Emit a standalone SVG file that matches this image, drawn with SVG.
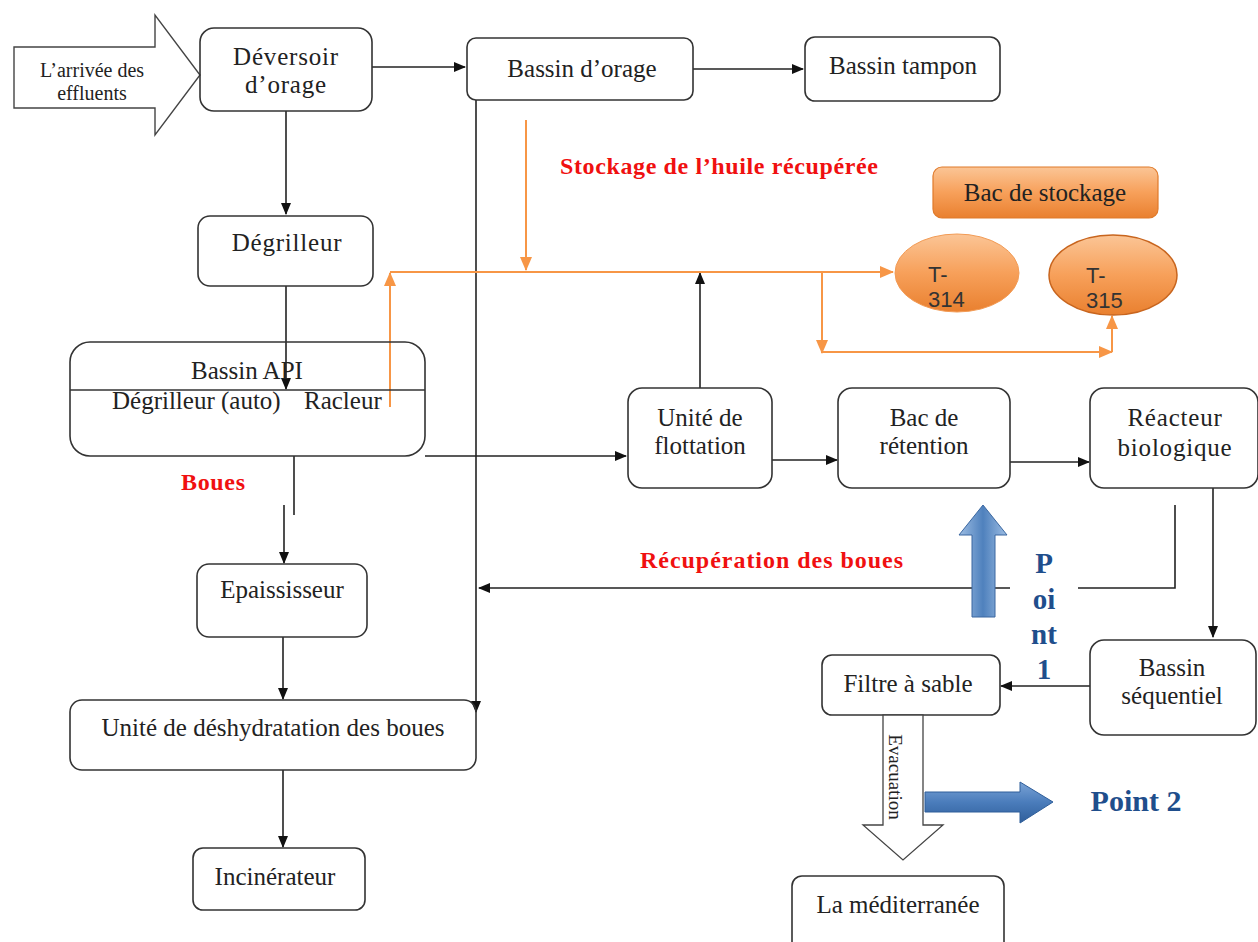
<svg xmlns="http://www.w3.org/2000/svg" width="1258" height="942" viewBox="0 0 1258 942">
<style>
.box{fill:none;stroke:#333;stroke-width:1.6}
.t{font-family:"Liberation Serif","Times New Roman",serif;font-size:25px;fill:#222;text-anchor:middle}
.red{font-family:"Liberation Serif","Times New Roman",serif;font-size:24px;font-weight:bold;fill:#f01010}
.blue{font-family:"Liberation Serif","Times New Roman",serif;font-size:29px;font-weight:bold;fill:#1f4e8c;text-anchor:middle}
.sans{font-family:"Liberation Sans",Arial,sans-serif;font-size:22px;fill:#333}
.ln{fill:none;stroke:#222;stroke-width:1.6}
.or{fill:none;stroke:#f79646;stroke-width:2}
</style>
<defs>
<marker id="ah" markerWidth="12" markerHeight="10" refX="11" refY="5" orient="auto" markerUnits="userSpaceOnUse"><path d="M0,0 L12,5 L0,10 Z" fill="#111"/></marker>
<marker id="oh" markerWidth="14" markerHeight="12" refX="13" refY="6" orient="auto" markerUnits="userSpaceOnUse"><path d="M0,0 L14,6 L0,12 Z" fill="#f79646"/></marker>
<linearGradient id="og" x1="0" y1="0" x2="0" y2="1"><stop offset="0" stop-color="#fbc596"/><stop offset="0.5" stop-color="#f7a05a"/><stop offset="1" stop-color="#e9802f"/></linearGradient>
<linearGradient id="bgv" x1="0" y1="0" x2="1" y2="0"><stop offset="0" stop-color="#9dbde3"/><stop offset="0.5" stop-color="#4f81bd"/><stop offset="1" stop-color="#9dbde3"/></linearGradient>
<linearGradient id="bgh" x1="0" y1="0" x2="0" y2="1"><stop offset="0" stop-color="#7aa3d6"/><stop offset="0.5" stop-color="#4a7cbb"/><stop offset="1" stop-color="#2f5e9a"/></linearGradient>
</defs>
<rect width="1258" height="942" fill="#fff"/>

<g id="connectors">
<path class="ln" d="M372,67 H465" marker-end="url(#ah)"/>
<path class="ln" d="M693,69 H803" marker-end="url(#ah)"/>
<path class="ln" d="M286,111 V214" marker-end="url(#ah)"/>
<path class="ln" d="M286,286 V389" marker-end="url(#ah)"/>
<path class="ln" d="M476,100 V712" marker-end="url(#ah)"/>
<path class="ln" d="M425,456 H626" marker-end="url(#ah)"/>
<path class="ln" d="M700,388 V273" marker-end="url(#ah)"/>
<path class="ln" d="M772,460 H837" marker-end="url(#ah)"/>
<path class="ln" d="M1010,462 H1089" marker-end="url(#ah)"/>
<path class="ln" d="M1213,488 V637" marker-end="url(#ah)"/>
<path class="ln" d="M1175,505 V588 H479" marker-end="url(#ah)"/>
<path class="ln" d="M1090,686 H1001" marker-end="url(#ah)"/>
<path class="ln" d="M294,456 V515"/>
<path class="ln" d="M284,505 V563" marker-end="url(#ah)"/>
<path class="ln" d="M283,637 V699" marker-end="url(#ah)"/>
<path class="ln" d="M283,770 V847" marker-end="url(#ah)"/>
<path class="or" d="M390,407 V273" marker-end="url(#oh)"/>
<path class="or" d="M390,272 H893" marker-end="url(#oh)"/>
<path class="or" d="M526,120 V270" marker-end="url(#oh)"/>
<path class="or" d="M822,272 V353" marker-end="url(#oh)"/>
<path class="or" d="M822,352 H1112" marker-end="url(#oh)"/>
<path class="or" d="M1112,352 V316" marker-end="url(#oh)"/>
</g>

<g id="label-recup">
<rect x="625" y="538" width="315" height="48" fill="#fff" opacity="0.5"/>
<text class="red" x="640" y="568" textLength="263">Récupération des boues</text>
</g>
<g id="label-stockage">
<text class="red" x="560" y="174" textLength="318">Stockage de l’huile récupérée</text>
</g>
<g id="label-boues">
<text class="red" x="181" y="490" textLength="64">Boues</text>
</g>

<g id="arrivee">
<polygon points="14,47 155,47 155,15 200,75 155,135 155,108 14,108" fill="#fff" stroke="#444" stroke-width="1.4"/>
<text class="t" x="92" y="77" style="font-size:20px">L’arrivée des</text>
<text class="t" x="92" y="100" style="font-size:20px">effluents</text>
</g>
<g id="deversoir">
<rect class="box" x="200" y="28" width="172" height="83" rx="14"/>
<text class="t" x="286" y="65" letter-spacing="0.8">Déversoir</text>
<text class="t" x="286" y="93" letter-spacing="0.8">d’orage</text>
</g>
<g id="bassin-orage">
<rect class="box" x="467" y="38" width="226" height="62" rx="9"/>
<text class="t" x="582" y="77">Bassin d’orage</text>
</g>
<g id="bassin-tampon">
<rect class="box" x="805" y="37" width="195" height="64" rx="10"/>
<text class="t" x="903" y="74">Bassin tampon</text>
</g>
<g id="degrilleur">
<rect class="box" x="198" y="216" width="175" height="70" rx="12"/>
<text class="t" x="287" y="251" letter-spacing="0.8">Dégrilleur</text>
</g>
<g id="bassin-api">
<rect class="box" x="70" y="342" width="355" height="114" rx="20"/>
<line x1="70" y1="390" x2="425" y2="390" stroke="#333" stroke-width="1.6"/>
<text class="t" x="247" y="379">Bassin API</text>
<text class="t" x="112" y="409" style="text-anchor:start">Dégrilleur (auto)</text>
<text class="t" x="304" y="409" style="text-anchor:start">Racleur</text>
</g>
<g id="bac-stockage">
<rect x="933" y="167" width="225" height="51" rx="9" fill="url(#og)" stroke="#e07a2a" stroke-width="1.2"/>
<text class="t" x="1045" y="201">Bac de stockage</text>
</g>
<g id="t314">
<ellipse cx="957" cy="273" rx="62" ry="39" fill="url(#og)" stroke="#f29b55" stroke-width="1"/>
<text class="sans" x="928" y="282">T-</text>
<text class="sans" x="928" y="307">314</text>
</g>
<g id="t315">
<ellipse cx="1113" cy="275" rx="64" ry="40" fill="url(#og)" stroke="#c8651e" stroke-width="1.5"/>
<text class="sans" x="1086" y="283">T-</text>
<text class="sans" x="1086" y="308">315</text>
</g>
<g id="flottation">
<rect class="box" x="628" y="388" width="144" height="100" rx="14"/>
<text class="t" x="700" y="426">Unité de</text>
<text class="t" x="700" y="454">flottation</text>
</g>
<g id="retention">
<rect class="box" x="838" y="388" width="172" height="100" rx="14"/>
<text class="t" x="924" y="426">Bac de</text>
<text class="t" x="924" y="454">rétention</text>
</g>
<g id="reacteur">
<rect class="box" x="1090" y="388" width="168" height="100" rx="14"/>
<text class="t" x="1175" y="426" letter-spacing="0.8">Réacteur</text>
<text class="t" x="1175" y="456" letter-spacing="0.8">biologique</text>
</g>
<g id="point1">
<polygon points="972,617 995,617 995,535 1007,535 983,505 959,535 972,535" fill="url(#bgv)" stroke="#3a67a0" stroke-width="1"/>
<rect x="1010" y="505" width="68" height="137" fill="#fff"/>
<text class="blue" x="1044" y="573">P</text>
<text class="blue" x="1044" y="609">oi</text>
<text class="blue" x="1044" y="644">nt</text>
<text class="blue" x="1044" y="679">1</text>
</g>
<g id="sequentiel">
<rect class="box" x="1090" y="640" width="166" height="95" rx="14"/>
<text class="t" x="1172" y="676">Bassin</text>
<text class="t" x="1172" y="704">séquentiel</text>
</g>
<g id="filtre">
<rect class="box" x="822" y="655" width="178" height="60" rx="10"/>
<text class="t" x="908" y="692">Filtre à sable</text>
</g>
<g id="evacuation">
<polygon points="883,715 923,715 923,825 943,825 903,860 863,825 883,825" fill="#fff" stroke="#444" stroke-width="1.3"/>
<text class="t" transform="translate(896,777) rotate(90)" style="font-size:19px" dy="0.35em">Evacuation</text>
</g>
<g id="point2">
<polygon points="925,792 1020,792 1020,782 1053,802 1020,823 1020,812 925,812" fill="url(#bgh)" stroke="#2f5e9a" stroke-width="1"/>
<text class="blue" x="1136" y="811" style="font-size:30px">Point 2</text>
</g>
<g id="mediterranee">
<rect class="box" x="792" y="876" width="212" height="80" rx="10"/>
<text class="t" x="898" y="913">La méditerranée</text>
</g>
<g id="epaississeur">
<rect class="box" x="197" y="564" width="170" height="73" rx="12"/>
<text class="t" x="282" y="598">Epaississeur</text>
</g>
<g id="deshydratation">
<rect class="box" x="70" y="700" width="406" height="70" rx="12"/>
<text class="t" x="273" y="736">Unité de déshydratation des boues</text>
</g>
<g id="incinerateur">
<rect class="box" x="193" y="848" width="172" height="62" rx="10"/>
<text class="t" x="275" y="885">Incinérateur</text>
</g>
</svg>
